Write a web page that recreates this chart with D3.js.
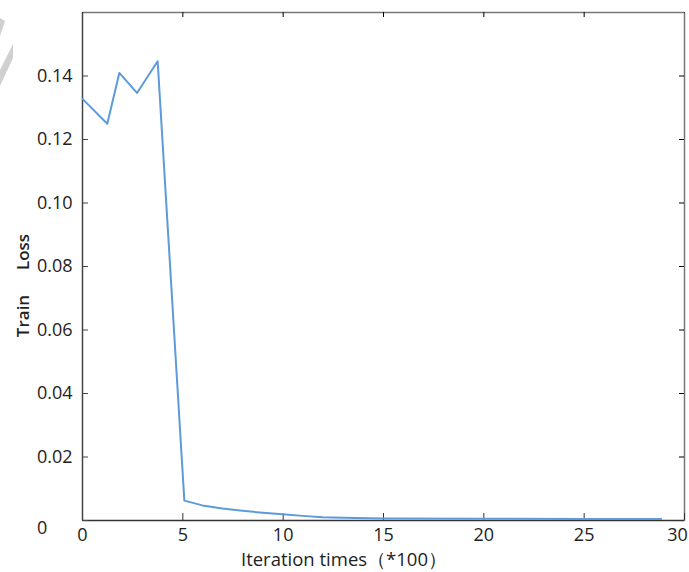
<!DOCTYPE html>
<html>
<head>
<meta charset="utf-8">
<script src="https://cdn.jsdelivr.net/npm/d3@7"></script>
<style>
  body { margin: 0; background: #fff; }
  svg { display: block; }
  .tick text { font-family: "Open Sans", sans-serif; font-size: 18px; fill: #222; }
  .label { font-family: "Open Sans", sans-serif; fill: #222; }
</style>
</head>
<body>
<svg width="689" height="572"></svg>
<script>
// iteration (*100) and train loss
const iterations = [0, 1.26, 1.86, 2.74, 3.77, 5.1, 6, 7, 8, 9, 10, 11, 12, 13, 15, 20, 25, 28.9];
const losses = [0.1328, 0.1248, 0.1408, 0.1345, 0.1445, 0.0061, 0.0046, 0.0036, 0.0029, 0.0023, 0.0018, 0.0013, 0.0009, 0.0007, 0.0005, 0.0004, 0.0003, 0.0003];
const xTicks = [0, 5, 10, 15, 20, 25, 30];
const yTicks = [0, 0.02, 0.04, 0.06, 0.08, 0.10, 0.12, 0.14];

const svg = d3.select('svg');
const margin = { left: 82, right: 5, top: 12, bottom: 52 };
const width = 689 - margin.left - margin.right;
const height = 572 - margin.top - margin.bottom;

const chart = svg.append('g')
  .attr('transform', `translate(${margin.left}, ${margin.top})`);

const xScale = d3.scaleLinear().domain([0, 30]).range([0, width]);
const yScale = d3.scaleLinear().domain([0, 0.16]).range([height, 0]);

// watermark fragments in the top-left corner
svg.append('polygon')
  .attr('points', '0,18 5,21 0,36')
  .attr('fill', '#d0d0d0');
svg.append('polygon')
  .attr('points', '0,70 13,44 13,58 0,86')
  .attr('fill', '#d0d0d0');

// frame: top and right with inward ticks, no labels
chart.append('g')
  .attr('class', 'axis top')
  .call(d3.axisTop(xScale).tickValues(xTicks).tickSizeInner(-5).tickSizeOuter(0).tickFormat(''))
  .call(g => g.select('.domain').attr('stroke', '#777').attr('stroke-width', 1.5));

chart.append('g')
  .attr('class', 'axis right')
  .attr('transform', `translate(${width}, 0)`)
  .call(d3.axisRight(yScale).tickValues(yTicks).tickSizeInner(-5).tickSizeOuter(0).tickFormat(''))
  .call(g => g.select('.domain').attr('stroke', '#777').attr('stroke-width', 1.5));

chart.append('g')
  .attr('class', 'axis bottom')
  .attr('transform', `translate(0, ${height})`)
  .call(d3.axisBottom(xScale).tickValues(xTicks).tickSizeInner(-7).tickSizeOuter(0).tickPadding(8).tickFormat(d3.format('d')))
  .call(g => g.select('.domain').attr('stroke', '#333').attr('stroke-width', 1.5))
  .call(g => g.selectAll('.tick line').attr('stroke', '#333'))
  .call(g => g.selectAll('.tick text').filter(d => d === 30).attr('dx', -7));

// left labels are left-aligned in the reference
chart.append('g')
  .attr('class', 'axis left')
  .call(d3.axisLeft(yScale).tickValues(yTicks).tickSizeInner(-6).tickSizeOuter(0).tickPadding(45)
    .tickFormat(d => d === 0 ? '0' : d3.format('.2f')(d)))
  .call(g => g.select('.domain').attr('stroke', '#444').attr('stroke-width', 1.5))
  .call(g => g.selectAll('.tick line').attr('stroke', '#444'))
  .call(g => g.selectAll('.tick text').attr('text-anchor', 'start'))
  .call(g => g.selectAll('.tick text').filter(d => d === 0).attr('dy', '0.75em'));

// loss curve
const line = d3.line()
  .x((d, i) => xScale(iterations[i]))
  .y(d => yScale(d));

chart.append('path')
  .datum(losses)
  .attr('fill', 'none')
  .attr('stroke', '#5b9bdc')
  .attr('stroke-width', 2)
  .attr('stroke-linejoin', 'round')
  .attr('d', line);

svg.append('text')
  .attr('class', 'label')
  .attr('x', 344)
  .attr('y', 566)
  .attr('text-anchor', 'middle')
  .style('font-size', '18.5px')
  .text('Iteration times（*100）');

svg.append('text')
  .attr('class', 'label')
  .attr('transform', 'translate(29, 316) rotate(-90)')
  .attr('text-anchor', 'middle')
  .style('font-size', '17px')
  .style('font-weight', '600')
  .text('Train');

svg.append('text')
  .attr('class', 'label')
  .attr('transform', 'translate(29, 252) rotate(-90)')
  .attr('text-anchor', 'middle')
  .style('font-size', '17px')
  .style('font-weight', '600')
  .text('Loss');
</script>
</body>
</html>
